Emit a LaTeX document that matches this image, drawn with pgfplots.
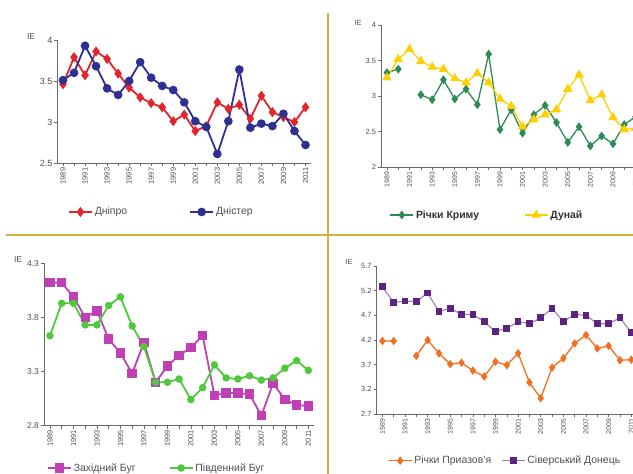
\documentclass[border=0pt]{standalone}
\usepackage{pgfplots}
\pgfplotsset{compat=1.18}
\usepackage{pgfplotstable}
\usepackage{fontspec}
\setmainfont{Liberation Sans}
\definecolor{axgray}{HTML}{6A6A6A}
\definecolor{txtgray}{HTML}{505050}
\definecolor{sepc}{HTML}{D2B23E}
\definecolor{cred}{HTML}{E2252B}
\definecolor{cblue}{HTML}{2E3192}
\definecolor{ckrym}{HTML}{2E8B55}
\definecolor{cdun}{HTML}{FFD000}
\definecolor{cwb}{HTML}{BE40B4}
\definecolor{csb}{HTML}{50C83C}
\definecolor{corange}{HTML}{F07022}
\definecolor{cpurp}{HTML}{5E2380}
\definecolor{cpurpl}{HTML}{9C80AE}

\pgfplotstableread{
i a b
0 3.46 3.51
1 3.79 3.60
2 3.57 3.93
3 3.86 3.68
4 3.77 3.41
5 3.59 3.33
6 3.42 3.50
7 3.30 3.73
8 3.23 3.54
9 3.18 3.44
10 3.01 3.39
11 3.09 3.24
12 2.89 3.01
13 2.95 2.94
14 3.24 2.61
15 3.16 3.01
16 3.21 3.64
17 3.04 2.93
18 3.32 2.98
19 3.12 2.95
20 3.06 3.10
21 3.00 2.89
22 3.18 2.72
}\tabA

\pgfplotstableread{
i a b
0 3.33 3.26
1 3.38 3.52
2 nan 3.66
3 3.02 3.49
4 2.95 3.41
5 3.23 3.38
6 2.96 3.25
7 3.10 3.19
8 2.88 3.32
9 3.59 3.19
10 2.53 2.96
11 2.81 2.86
12 2.48 2.57
13 2.74 2.67
14 2.87 2.74
15 2.63 2.81
16 2.35 3.10
17 2.57 3.30
18 2.30 2.94
19 2.44 3.02
20 2.33 2.70
21 2.60 2.53
22 2.71 2.55
}\tabB

\pgfplotstableread{
i a b
0 4.12 3.63
1 4.12 3.93
2 3.99 3.93
3 3.80 3.73
4 3.86 3.73
5 3.60 3.91
6 3.47 3.99
7 3.28 3.72
8 3.57 3.53
9 3.20 3.20
10 3.35 3.20
11 3.45 3.23
12 3.52 3.04
13 3.63 3.15
14 3.08 3.36
15 3.10 3.24
16 3.10 3.23
17 3.09 3.26
18 2.89 3.22
19 3.19 3.24
20 3.04 3.33
21 2.99 3.40
22 2.98 3.31
}\tabC

\pgfplotstableread{
i a b
0 4.18 5.28
1 4.18 4.96
2 nan 4.99
3 3.88 4.98
4 4.20 5.15
5 3.93 4.78
6 3.71 4.84
7 3.74 4.72
8 3.58 4.72
9 3.46 4.57
10 3.76 4.37
11 3.69 4.44
12 3.93 4.57
13 3.34 4.53
14 3.02 4.65
15 3.64 4.84
16 3.83 4.57
17 4.13 4.72
18 4.30 4.70
19 4.03 4.53
20 4.08 4.53
21 3.79 4.65
22 3.80 4.35
}\tabD

\pgfplotsset{
  panel/.style={
    scale only axis,
    axis x line=bottom, axis y line=left,
    axis line style={-, draw=axgray, line width=0.8bp},
    x axis line style={-}, y axis line style={-},
    tick style={draw=axgray, line width=0.6bp},
    tick align=outside, major tick length=3bp,
    xmin=-0.5, xmax=22.5,
    xtick={0,...,22},
    xticklabels={1989,,1991,,1993,,1995,,1997,,1999,,2001,,2003,,2005,,2007,,2009,,2011},
    xticklabel style={rotate=90, anchor=east, font=\fontsize{7.5}{8}\selectfont, text=txtgray, inner sep=1.5bp},
    yticklabel style={font=\fontsize{8.5}{9}\selectfont, text=txtgray, inner sep=2bp},
    /pgf/number format/assume math mode=true,
    unbounded coords=jump,
    clip=false,
    legend columns=2,
    legend cell align=left,
    legend style={draw=none, fill=none, inner sep=0pt, outer sep=0pt, anchor=west,
      font=\fontsize{10.5}{12}\selectfont, text=txtgray, nodes={inner sep=0pt},
      /tikz/column 1/.style={column sep=2bp},
      /tikz/column 3/.style={column sep=2bp}},
    legend image code/.code={\draw[mark repeat=2,mark phase=2,##1] plot coordinates {(0bp,0bp) (11.5bp,0bp) (23bp,0bp)};},
  }
}

\begin{document}
\begin{tikzpicture}
\path[use as bounding box, clip] (0,0) rectangle (633bp,474bp);
\fill[white] (0,0) rectangle (633bp,474bp);

% Panel 1
\begin{axis}[panel, at={(57.5bp,311bp)}, anchor=south west, width=253.5bp, height=123bp,
  ymin=2.5, ymax=4, ytick={2.5,3,3.5,4},
  yticklabel style={font=\fontsize{9}{10}\selectfont},
  legend style={at={(0.0414,-0.398)}, /tikz/column 2/.style={column sep=62bp}}]
\addplot[cred, line width=1.8bp, mark=diamond*, mark size=3.6bp, mark options={solid, fill=cred}] table[x=i, y=a] {\tabA};
\addlegendentry{Дніпро}
\addplot[cblue, line width=1.8bp, mark=*, mark size=3.4bp, mark options={solid, fill=cblue}] table[x=i, y=b] {\tabA};
\addlegendentry{Дністер}
\end{axis}
\node[font=\fontsize{8.5}{9}\selectfont, text=txtgray] at (31bp,437bp) {IE};

% Panel 2
\begin{axis}[panel, at={(381.3bp,306.7bp)}, anchor=south west, width=259.9bp, height=142.3bp,
  ymin=2, ymax=4, ytick={2,2.5,3,3.5,4},
  xticklabel style={font=\fontsize{7}{8}\selectfont},
  yticklabel style={font=\fontsize{7.5}{8}\selectfont},
  legend style={at={(0.0323,-0.335)}, font=\bfseries\fontsize{10.5}{12}\selectfont, text=black!80,
    /tikz/column 2/.style={column sep=45bp}}]
\addplot[ckrym, line width=1.3bp, mark=diamond*, mark size=3.4bp, mark options={solid, fill=ckrym}] table[x=i, y=a] {\tabB};
\addlegendentry{Річки Криму}
\addplot[cdun, line width=1.3bp, mark=triangle*, mark size=4.2bp, mark options={solid, fill=cdun}] table[x=i, y=b] {\tabB};
\addlegendentry{Дунай}
\end{axis}
\node[font=\fontsize{7.5}{8}\selectfont, text=txtgray] at (358bp,451bp) {IE};

% Panel 3
\begin{axis}[panel, at={(44.1bp,48.5bp)}, anchor=south west, width=270.1bp, height=162.2bp,
  ymin=2.8, ymax=4.3, ytick={2.8,3.3,3.8,4.3},
  legend style={at={(0.0107,-0.262)}, /tikz/column 2/.style={column sep=33bp}}]
\addplot[cwb, line width=1.8bp, mark=square*, mark size=3.8bp, mark options={solid, fill=cwb}] table[x=i, y=a] {\tabC};
\addlegendentry{Західний Буг}
\addplot[csb, line width=1.8bp, mark=*, mark size=2.8bp, mark options={solid, fill=csb}] table[x=i, y=b] {\tabC};
\addlegendentry{Південний Буг}
\end{axis}
\node[font=\fontsize{8.5}{9}\selectfont, text=txtgray] at (18bp,214bp) {IE};

% Panel 4
\begin{axis}[panel, at={(376.7bp,60bp)}, anchor=south west, width=260.2bp, height=148bp,
  ymin=2.7, ymax=5.7, ytick={2.7,3.2,3.7,4.2,4.7,5.2,5.7},
  xticklabel style={font=\fontsize{7}{8}\selectfont},
  yticklabel style={font=\fontsize{7.5}{8}\selectfont},
  legend style={at={(0.0434,-0.316)}, /tikz/column 2/.style={column sep=10bp}}]
\addplot[corange, line width=1.3bp, mark=diamond*, mark size=3.2bp, mark options={solid, fill=corange}] table[x=i, y=a] {\tabD};
\addlegendentry{Річки Приазов'я}
\addplot[cpurpl, line width=1.1bp, mark=square*, mark size=2.8bp, mark options={solid, draw=cpurp, fill=cpurp}] table[x=i, y=b] {\tabD};
\addlegendentry{Сіверський Донець}
\end{axis}
\node[font=\fontsize{7.5}{8}\selectfont, text=txtgray] at (349bp,212bp) {IE};

% separators
\draw[sepc, line width=2bp] (6bp,239bp) -- (633bp,239bp);
\draw[sepc, line width=2bp] (327.7bp,461bp) -- (327.7bp,0bp);
\end{tikzpicture}
\end{document}
